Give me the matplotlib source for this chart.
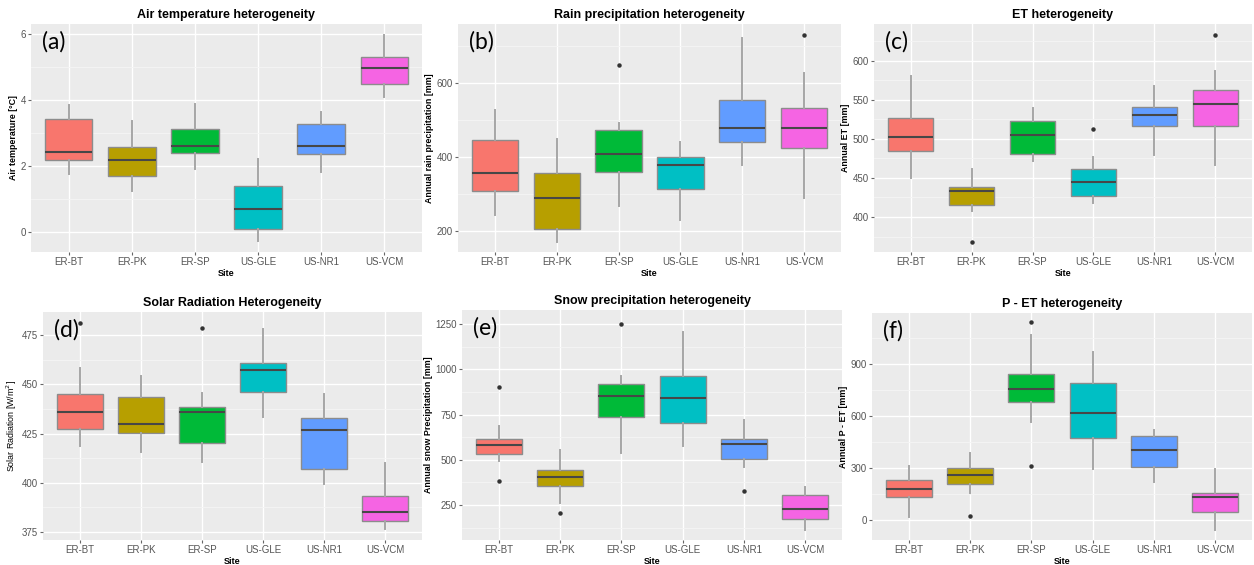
import matplotlib
matplotlib.use("Agg")
import matplotlib.pyplot as plt
from matplotlib.ticker import FixedLocator
from matplotlib.transforms import offset_copy

plt.rcParams["font.family"] = ["Liberation Sans", "DejaVu Sans"]

sites = ["ER-BT", "ER-PK", "ER-SP", "US-GLE", "US-NR1", "US-VCM"]
colors = ["#F8766D", "#B79F00", "#00BA38", "#00BFC4", "#619CFF", "#F564E3"]

# stats per site: (whislo, q1, med, q3, whishi)
air_stats = [(1.74, 2.17, 2.41, 3.43, 3.84), (1.24, 1.70, 2.17, 2.57, 3.37),
             (1.90, 2.37, 2.59, 3.11, 3.86), (-0.29, 0.08, 0.70, 1.37, 2.20),
             (1.82, 2.36, 2.60, 3.28, 3.64), (4.08, 4.49, 4.97, 5.30, 5.98)]
air_out = [[], [], [], [], [], []]

rain_stats = [(245, 308, 358, 445, 527), (171, 206, 289, 357, 449),
              (268, 359, 408, 472, 491), (231, 315, 379, 400, 442),
              (378, 440, 479, 555, 720), (291, 425, 479, 532, 627)]
rain_out = [[], [], [648], [], [], [730]]

et_stats = [(450, 484, 502, 526, 580), (408, 415, 433, 439, 461),
            (472, 480, 505, 523, 540), (418, 427, 445, 461, 477),
            (479, 516, 530, 541, 567), (467, 517, 545, 562, 587)]
et_out = [[], [368], [], [513], [], [633]]

solar_stats = [(418.6, 427.2, 436.2, 445.0, 458.6), (415.5, 425.3, 429.9, 443.8, 454.3),
               (410.3, 420.3, 436.0, 438.4, 445.8), (433.3, 446.4, 457.4, 460.9, 478.4),
               (399.2, 407.0, 426.9, 432.8, 445.0), (376.2, 380.3, 385.3, 393.0, 409.9)]
solar_out = [[481.4], [], [478.9], [], [], []]

snow_stats = [(495, 534, 582, 617, 687), (259, 353, 403, 442, 554),
              (536, 739, 851, 918, 964), (578, 704, 840, 962, 1206),
              (460, 506, 586, 613, 720), (113, 174, 226, 303, 350)]
snow_out = [[903, 383], [206], [1254], [], [329], []]

pet_stats = [(21, 134, 180, 232, 313), (155, 207, 261, 301, 386),
             (566, 681, 754, 843, 1067), (297, 474, 618, 787, 965),
             (221, 309, 403, 486, 522), (-56, 48, 132, 157, 296)]
pet_out = [[], [25], [1138, 315], [], [], []]

titles = ["Air temperature heterogeneity", "Rain precipitation heterogeneity",
          "ET heterogeneity", "Solar Radiation Heterogeneity",
          "Snow precipitation heterogeneity", "P - ET heterogeneity"]
ylabels = ["Air temperature [\u00b0C]", "Annual rain precipitation [mm]",
           "Annual ET [mm]", "Solar Radiation [W/m$^2$]",
           "Annual snow Precipitation [mm]", "Annual P - ET [mm]"]
letters = ["(a)", "(b)", "(c)", "(d)", "(e)", "(f)"]
major_ticks = [[0, 2, 4, 6], [200, 400, 600], [400, 450, 500, 550, 600],
               [375, 400, 425, 450, 475], [250, 500, 750, 1000, 1250],
               [0, 300, 600, 900]]
minor_ticks = [[1, 3, 5], [300, 500, 700], [375, 425, 475, 525, 575, 625],
               [387.5, 412.5, 437.5, 462.5], [125, 375, 625, 875, 1125],
               [150, 450, 750, 1050]]
ylims = [(-0.62, 6.30), (144, 759), (355.3, 646.8), (370.8, 486.9),
         (56, 1329), (-113, 1192)]

all_stats = [air_stats, rain_stats, et_stats, solar_stats, snow_stats, pet_stats]
all_out = [air_out, rain_out, et_out, solar_out, snow_out, pet_out]

W, H = 1254, 565
fig = plt.figure(figsize=(W / 100, H / 100), dpi=100)
fig.patch.set_facecolor("white")

# panel rectangles in pixels: left, top, right, bottom
rects = [(31, 24, 422, 252), (458, 24, 841, 252), (874, 24, 1252, 252),
         (43, 312, 422, 540), (462, 310, 842, 540), (872, 313, 1252, 540)]

for i in range(6):
    l, t, r, b = rects[i]
    ax = fig.add_axes([l / W, 1 - b / H, (r - l) / W, (b - t) / H])
    ax.set_facecolor("#EBEBEB")
    for s in ax.spines.values():
        s.set_visible(False)
    bxp_data = []
    for j, st in enumerate(all_stats[i]):
        bxp_data.append(dict(whislo=st[0], q1=st[1], med=st[2], q3=st[3],
                             whishi=st[4], fliers=all_out[i][j], label=sites[j]))
    ax.set_axisbelow(True)
    art = ax.bxp(bxp_data, positions=range(1, 7), widths=0.75, patch_artist=True,
                 showcaps=False,
                 boxprops=dict(edgecolor="#8c8c8c", linewidth=1.0),
                 whiskerprops=dict(color="#a6a6a6", linewidth=1.4),
                 medianprops=dict(color="#474747", linewidth=1.5),
                 flierprops=dict(marker="o", markersize=2.2, markerfacecolor="#333333",
                                 markeredgecolor="#333333", linestyle="none"))
    for patch, c in zip(art["boxes"], colors):
        patch.set_facecolor(c)
    ax.set_xlim(0.4, 6.6)
    ax.set_ylim(*ylims[i])
    ax.yaxis.set_major_locator(FixedLocator(major_ticks[i]))
    ax.yaxis.set_minor_locator(FixedLocator(minor_ticks[i]))
    ax.grid(True, which="major", color="white", linewidth=1.0)
    ax.grid(True, which="minor", axis="y", color="#F5F5F5", linewidth=0.6)
    ax.tick_params(axis="both", which="major", length=2.2, color="#666666",
                   labelsize=7, labelcolor="#555555", pad=1.5)
    ax.tick_params(axis="y", which="minor", length=0)
    ax.set_xticks(range(1, 7))
    ax.set_xticklabels(sites)
    ax.set_title(titles[i], fontsize=9, fontweight="bold", pad=4)
    ax.set_xlabel("Site", fontsize=6.5, fontweight="bold", labelpad=1)
    ax.set_ylabel(ylabels[i], fontsize=6.4, fontweight="normal" if i == 3 else "bold",
                  labelpad=2)
    tr = offset_copy(ax.transAxes, fig=fig, x=11, y=-7, units="dots")
    ax.text(0, 1, letters[i], transform=tr, fontsize=16.5,
            family="Lato", va="top", ha="left", color="black")

fig.savefig("out.png", dpi=100, facecolor="white")
